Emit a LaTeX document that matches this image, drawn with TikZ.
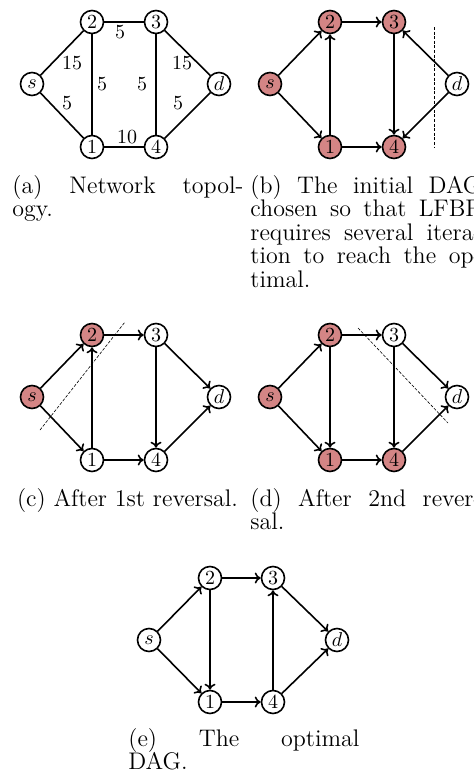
\documentclass[tikz,border=0pt]{standalone}
\usetikzlibrary{arrows.meta}
\definecolor{pinkc}{RGB}{212,133,133}
\tikzset{
 vtx/.style={circle, draw, line width=0.8pt, minimum size=11.5pt, inner sep=0pt, font=\fontsize{10}{12}\selectfont},
 hot/.style={vtx, fill=pinkc},
 edg/.style={line width=0.8pt},
 arr/.style={line width=0.8pt, -{To[length=3pt,width=5.5pt]}},
 cutl/.style={line width=0.3pt, dash pattern=on 1.5pt off 0.8pt},
 wlab/.style={font=\fontsize{10}{12}\selectfont, inner sep=0pt},
 captxt/.style={anchor=base west, inner sep=0pt, font=\fontsize{12}{13}\selectfont},
}
\begin{document}
\begin{tikzpicture}[x=0.5pt,y=-0.5pt]
\useasboundingbox (0,0) rectangle (473,776);
% ---------- (a)
\begin{scope}[shift={(32,84)}]
\node[vtx] (as) at (0,0) {$s$};
\node[vtx] (a2) at (60,-62) {2};
\node[vtx] (a3) at (124,-62) {3};
\node[vtx] (ad) at (187,0) {$d$};
\node[vtx] (a1) at (60,63) {1};
\node[vtx] (a4) at (124,63) {4};
\draw[edg] (as) -- node[wlab, xshift=5pt, yshift=-5pt] {15} (a2);
\draw[edg] (as) -- node[wlab, xshift=2.5pt, yshift=6.25pt] {5} (a1);
\draw[edg] (a2) -- node[wlab, xshift=-2pt, yshift=-5pt] {5} (a3);
\draw[edg] (a2) -- node[wlab, xshift=5pt] {5} (a1);
\draw[edg] (a3) -- node[wlab, xshift=-7pt] {5} (a4);
\draw[edg] (a3) -- node[wlab, xshift=-2.75pt, yshift=-5pt] {15} (ad);
\draw[edg] (a4) -- node[wlab, xshift=-4.75pt, yshift=6.25pt] {5} (ad);
\draw[edg] (a1) -- node[wlab, xshift=1.5pt, yshift=5pt] {10} (a4);
\end{scope}
% ---------- (b)
\begin{scope}[shift={(270,84)}]
\node[hot] (bs) at (0,0) {$s$};
\node[hot] (b2) at (60,-62) {2};
\node[hot] (b3) at (124,-62) {3};
\node[vtx] (bd) at (187,0) {$d$};
\node[hot] (b1) at (60,63) {1};
\node[hot] (b4) at (124,63) {4};
\draw[arr] (bs) -- (b2);
\draw[arr] (bs) -- (b1);
\draw[arr] (b1) -- (b2);
\draw[arr] (b2) -- (b3);
\draw[arr] (b3) -- (b4);
\draw[arr] (b1) -- (b4);
\draw[arr] (bd) -- (b3);
\draw[arr] (bd) -- (b4);
\draw[cutl] (164,-57) -- (164,63);
\end{scope}
% ---------- (c)
\begin{scope}[shift={(32,397)}]
\node[hot] (cs) at (0,0) {$s$};
\node[hot] (c2) at (60,-62) {2};
\node[vtx] (c3) at (124,-62) {3};
\node[vtx] (cd) at (187,0) {$d$};
\node[vtx] (c1) at (60,63) {1};
\node[vtx] (c4) at (124,63) {4};
\draw[arr] (cs) -- (c2);
\draw[arr] (cs) -- (c1);
\draw[arr] (c1) -- (c2);
\draw[arr] (c2) -- (c3);
\draw[arr] (c3) -- (c4);
\draw[arr] (c3) -- (cd);
\draw[arr] (c1) -- (c4);
\draw[arr] (c4) -- (cd);
\draw[cutl] (8,33) -- (93,-75);
\end{scope}
% ---------- (d)
\begin{scope}[shift={(270,397)}]
\node[hot] (ds) at (0,0) {$s$};
\node[hot] (d2) at (60,-62) {2};
\node[vtx] (d3) at (124,-62) {3};
\node[vtx] (dd) at (187,0) {$d$};
\node[hot] (d1) at (60,63) {1};
\node[hot] (d4) at (124,63) {4};
\draw[arr] (ds) -- (d2);
\draw[arr] (ds) -- (d1);
\draw[arr] (d2) -- (d1);
\draw[arr] (d2) -- (d3);
\draw[arr] (d3) -- (d4);
\draw[arr] (d3) -- (dd);
\draw[arr] (d1) -- (d4);
\draw[arr] (d4) -- (dd);
\draw[cutl] (88,-69) -- (178,26);
\end{scope}
% ---------- (e)
\begin{scope}[shift={(149,640)}]
\node[vtx] (es) at (0,0) {$s$};
\node[vtx] (e2) at (61,-62) {2};
\node[vtx] (e3) at (124,-62) {3};
\node[vtx] (ed) at (188,0) {$d$};
\node[vtx] (e1) at (61,62) {1};
\node[vtx] (e4) at (124,62) {4};
\draw[arr] (es) -- (e2);
\draw[arr] (es) -- (e1);
\draw[arr] (e2) -- (e1);
\draw[arr] (e2) -- (e3);
\draw[arr] (e4) -- (e3);
\draw[arr] (e3) -- (ed);
\draw[arr] (e1) -- (e4);
\draw[arr] (e4) -- (ed);
\end{scope}
% ---------- captions
\node[captxt] (capa1) at (12,193) {\makebox[115.5pt][s]{(a) Network topol-}};
\node[captxt] (capa2) at (12,216.5) {ogy.};
\node[captxt] (capb1) at (250,193) {\makebox[115.5pt][s]{(b) The initial DAG}};
\node[captxt] (capb2) at (250,216.5) {\makebox[115.5pt][s]{chosen so that LFBP}};
\node[captxt] (capb3) at (250,240) {\makebox[115.5pt][s]{requires several itera-}};
\node[captxt] (capb4) at (250,263.5) {\makebox[115.5pt][s]{tion to reach the op-}};
\node[captxt] (capb5) at (250,287) {timal.};
\node[captxt, anchor=base] (capc1) at (127.5,506) {(c) After 1st reversal.};
\node[captxt] (capd1) at (250,506) {\makebox[115.5pt][s]{(d) After 2nd rever-}};
\node[captxt] (capd2) at (250,529) {sal.};
\node[captxt] (cape1) at (128,746) {\makebox[115.5pt][s]{(e) The optimal}};
\node[captxt] (cape2) at (128,769) {DAG.};
\end{tikzpicture}
\end{document}
